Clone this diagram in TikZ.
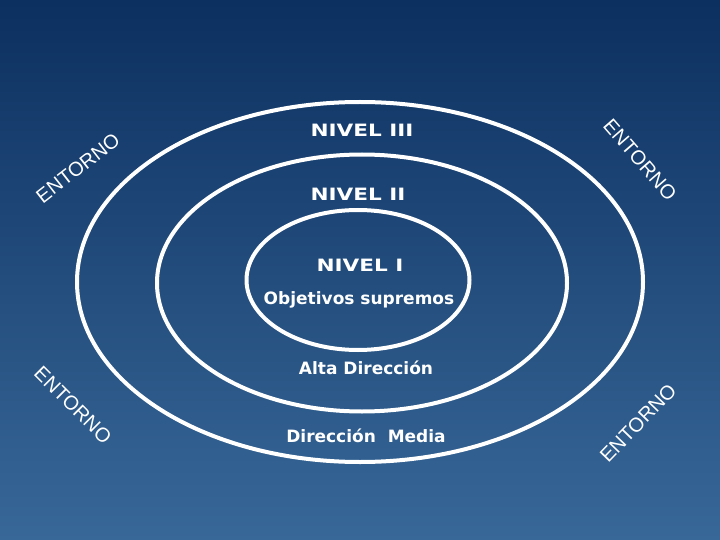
\documentclass[tikz,border=0pt]{standalone}
\usepackage{fontspec}
\setmainfont{DejaVu Sans}
\newfontfamily\entfont{Liberation Sans}
\usetikzlibrary{shapes.geometric}
\definecolor{bgtop}{RGB}{12,48,96}
\definecolor{bgbot}{RGB}{56,104,152}
\tikzset{
  ring/.style={draw=white, line width=4pt, ellipse, inner sep=0pt},
  lvl/.style={text=white, font=\fontsize{17}{19}\selectfont\bfseries, inner sep=0pt},
  lvlcaps/.style={lvl, font=\fontsize{17}{19}\selectfont\bfseries\addfontfeature{FakeStretch=1.27}},
  ent/.style={text=white, font=\entfont\fontsize{20}{22}\selectfont, inner sep=0pt},
}
\begin{document}
\begin{tikzpicture}[x=1pt, y=-1pt]
\useasboundingbox (0,0) rectangle (720,540);
\shade[top color=bgtop, bottom color=bgbot] (0,0) rectangle (720,540);
\node[ring, minimum width=566pt, minimum height=360pt] (outer) at (360,282) {};
\node[ring, minimum width=410pt, minimum height=257pt] (middle) at (362,283) {};
\node[ring, minimum width=223pt, minimum height=140pt] (inner) at (358,280) {};
\node[lvlcaps] (n3) at (362,130) {NIVEL III};
\node[lvlcaps] (n2) at (358,194) {NIVEL II};
\node[lvlcaps] (n1) at (360,265) {NIVEL I};
\node[lvl] (obj) at (359,300) {Objetivos supremos};
\node[lvl] (alta) at (366,368) {Alta Dirección};
\node[lvl] (media) at (366,436) {Dirección\ \ Media};
\node[ent, rotate=38] (e1) at (78,168) {ENTORNO};
\node[ent, rotate=-49] (e2) at (640,160) {ENTORNO};
\node[ent, rotate=-45] (e3) at (73,405) {ENTORNO};
\node[ent, rotate=46] (e4) at (638,423) {ENTORNO};
\end{tikzpicture}
\end{document}
